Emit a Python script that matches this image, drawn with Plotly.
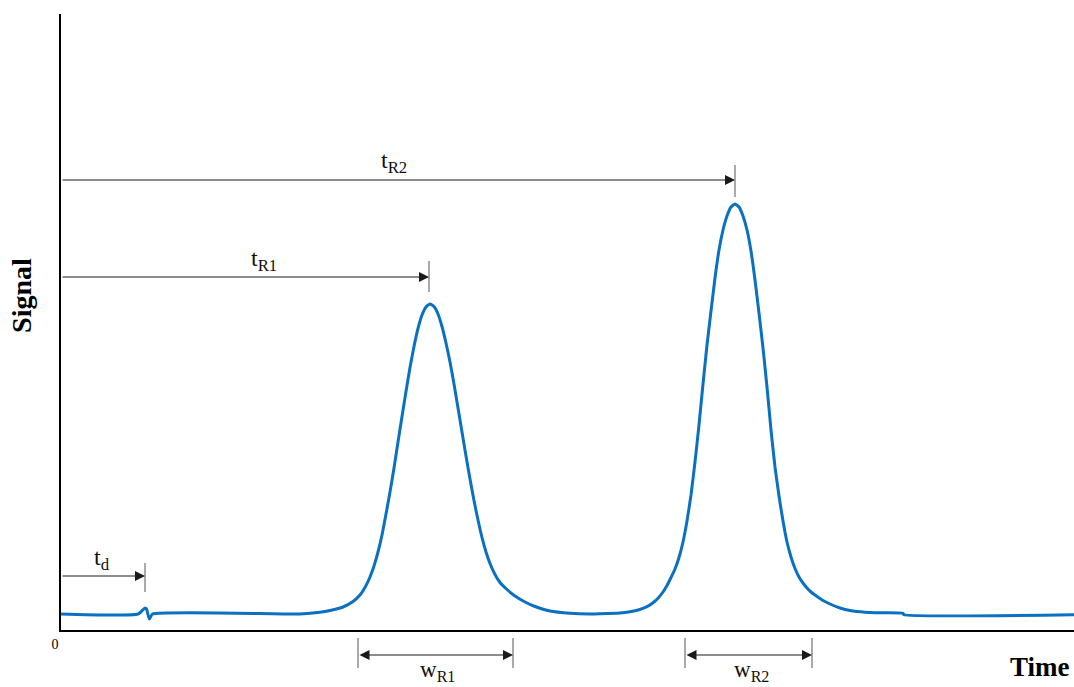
import plotly.graph_objects as go

# ---- chromatogram trace (arbitrary time / signal units) ----
time = [0, 77, 84, 85.5, 88.3, 91.5, 239,
        259, 269, 282, 292, 299, 304, 309, 313, 317, 321, 325, 329, 333, 337, 341, 345,
        349, 353, 357, 361, 365, 369,
        373, 377, 381, 385, 389, 393, 397, 401, 405, 409, 413, 417, 421, 425, 429, 434,
        439, 446, 454, 464, 474, 489, 509, 529,
        539, 559, 569, 578, 586, 592, 597, 602, 606, 610, 614, 618, 622, 626, 630, 634, 638, 642,
        646, 650, 654, 658, 662, 666, 670, 674,
        678, 682, 686, 690, 694, 698, 702, 706, 710, 714, 718, 722, 726, 730, 734, 738,
        742, 746, 750, 754, 762, 769, 779, 789, 804, 819, 842, 843, 1013]
signal = [16, 16, 22, 21, 11, 16, 16,
          17.7, 19.5, 23, 28.5, 35, 42.5, 53, 64, 78, 95, 116, 138, 162, 188, 213.5, 238.5,
          262.5, 283.5, 301.5, 315, 323, 326,
          323.5, 316, 303.5, 287, 268, 246, 222, 198, 174, 151, 129.5, 110, 92.5, 78, 66.5, 55.5,
          47.5, 40.5, 34, 28, 23.5, 19, 16.8, 16,
          16.2, 17, 18.3, 20.3, 23.3, 27.3, 31.8, 38, 44.5, 52.5, 61, 72.5, 88, 109, 135, 168, 205, 246,
          285, 319, 352, 380, 400, 414, 423, 426,
          423, 414, 400, 379, 350, 317, 282, 243, 200, 163, 134, 109, 88, 73, 61.5, 53,
          47, 42, 38, 35, 29.5, 26, 22, 19.5, 17.8, 17.2, 16.7, 15.2, 15.2]

# ---- annotation markers ----
time_marks = ["t<sub>d</sub>", "t<sub>R1</sub>", "t<sub>R2</sub>"]
time_mark_end = [84, 368, 674]          # arrow tips (time)
time_mark_level = [54, 353, 450]        # arrow heights (signal)
time_tick_span = [(38, 67), (338, 369), (433, 465)]
time_label_pos = [(41, 71), (203, 370), (333, 468)]

width_marks = ["w<sub>R1</sub>", "w<sub>R2</sub>"]
width_start = [297, 624]
width_end = [452, 751]
width_label_x = [376, 690]

LINE_BLUE = "#0A70C2"
SERIF = "Liberation Serif, Times New Roman, serif"

fig = go.Figure()
fig.add_trace(go.Scatter(
    x=time, y=signal, mode="lines",
    line=dict(color=LINE_BLUE, width=3, shape="spline", smoothing=0.5),
    showlegend=False, hoverinfo="skip"))

annotations = []
shapes = []

for lab, tend, lev, (y0, y1), (lx, ly) in zip(time_marks, time_mark_end, time_mark_level,
                                               time_tick_span, time_label_pos):
    annotations.append(dict(x=tend, y=lev, xref="x", yref="y", ax=0, ay=lev,
                            axref="x", ayref="y", text="", showarrow=True,
                            arrowhead=2, arrowsize=2, arrowwidth=1, arrowcolor="#1a1a1a"))
    shapes.append(dict(type="line", xref="x", yref="y", x0=tend, x1=tend, y0=y0, y1=y1,
                       line=dict(color="#555", width=1)))
    annotations.append(dict(x=lx, y=ly, xref="x", yref="y", text=lab, showarrow=False,
                            xanchor="center", yanchor="middle",
                            font=dict(family=SERIF, size=24, color="#111")))

for lab, ws, we, lx in zip(width_marks, width_start, width_end, width_label_x):
    annotations.append(dict(x=we, y=-0.0406, xref="x", yref="paper", ax=ws, ay=0,
                            axref="x", ayref="pixel", text="", showarrow=True,
                            arrowside="end+start", arrowhead=2, arrowsize=2,
                            arrowwidth=1, arrowcolor="#1a1a1a"))
    for xx in (ws, we):
        shapes.append(dict(type="line", xref="x", yref="paper", x0=xx, x1=xx,
                           y0=-0.0130, y1=-0.0617, line=dict(color="#555", width=1)))
    annotations.append(dict(x=lx, y=-0.0665, xref="x", yref="paper", text=lab,
                            showarrow=False, xanchor="center", yanchor="middle",
                            font=dict(family=SERIF, size=23, color="#111")))

annotations.append(dict(x=-0.0385, y=0.544, xref="paper", yref="paper", text="<b>Signal</b>",
                        textangle=-90, showarrow=False, xanchor="center", yanchor="middle",
                        font=dict(family=SERIF, size=28, color="#000")))
annotations.append(dict(x=0.9664, y=-0.060, xref="paper", yref="paper", text="<b>Time</b>",
                        showarrow=False, xanchor="center", yanchor="middle",
                        font=dict(family=SERIF, size=27, color="#000")))

fig.update_layout(
    width=1074, height=687,
    margin=dict(l=61, r=0, t=14, b=57),
    paper_bgcolor="white", plot_bgcolor="white",
    annotations=annotations, shapes=shapes,
    xaxis=dict(range=[0, 1013], showgrid=False, zeroline=False, showline=True,
               linecolor="#000", linewidth=2, tickvals=[0], ticktext=["0"], ticks="",
               ticklabelshift=-6, tickfont=dict(family=SERIF, size=14, color="#000")),
    yaxis=dict(range=[0, 616], showgrid=False, zeroline=False, showline=True,
               linecolor="#000", linewidth=2, showticklabels=False, ticks=""),
)

fig.write_html("out.html",
               config={"displayModeBar": False},
               post_script="document.body.style.margin='0';"
                           "document.body.style.overflow='hidden';")
